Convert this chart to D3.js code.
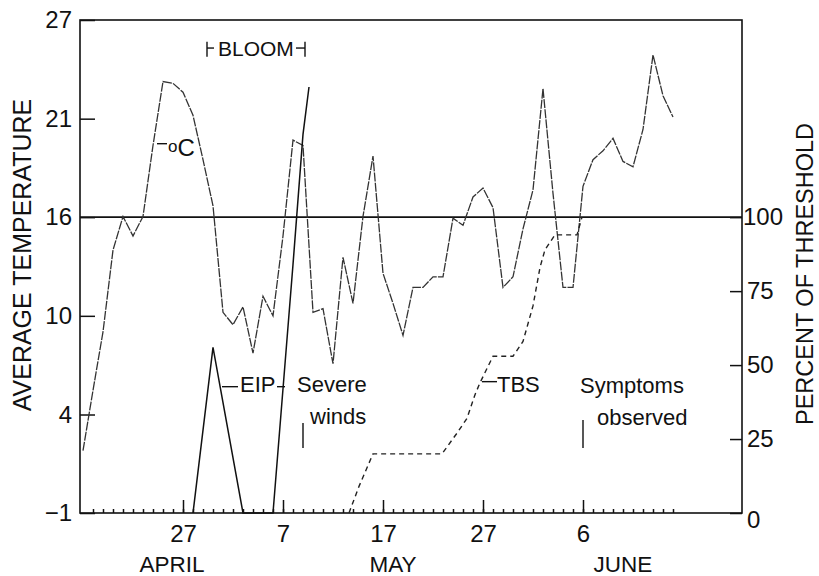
<!DOCTYPE html>
<html>
<head>
<meta charset="utf-8">
<script src="https://cdnjs.cloudflare.com/ajax/libs/d3/7.8.5/d3.min.js"></script>
<style>
  body { margin: 0; background: #fff; }
  svg { display: block; }
</style>
</head>
<body>
<svg id="chart" width="819" height="576"></svg>
<script>
'use strict';
var FONT = '"Liberation Sans", Arial, Helvetica, sans-serif';

/* day of year: 117 = 27 April, 157 = 6 June */
var tempStartDay = 107;
var temperature = [
  2.4, 5.8, 9.1, 13.7, 15.6, 14.5, 15.6, 19.6, 23.2, 23.1,
  22.6, 21.3, 18.8, 16.2, 10.2, 9.5, 10.5, 7.9, 11.1, 10.0,
  14.5, 19.9, 19.6, 10.2, 10.4, 7.3, 13.3, 10.7, 15.6, 19.0,
  12.4, 10.7, 8.9, 11.6, 11.6, 12.2, 12.2, 15.5, 15.1, 16.7,
  17.2, 16.1, 11.6, 12.2, 14.9, 17.1, 22.8, 16.9, 11.6, 11.6,
  17.3, 18.8, 19.3, 20.0, 18.7, 18.4, 20.5, 24.7, 22.4, 21.2
];
var eipDays = [118, 120, 123, 126, 127, 128, 129, 129.6];
var eipValues = [0, 56, 0, 0, 42, 84, 128, 144];
var tbsDays = [133.6, 134.6, 136, 142.9, 144.4, 145.4, 146.2, 146.7, 148, 150, 151, 152, 152.7, 153.2, 154.2, 156.4, 156.9];
var tbsValues = [0, 9, 20, 20, 27, 32, 40, 44, 53, 53, 58, 70, 83, 89, 94, 94, 100];

var thresholdTemp = 15.56;
var tempTicks = [-1.11, 4.44, 10, 15.56, 21.11, 26.67];
var tempTickLabels = ['\u22121', '4', '10', '16', '21', '27'];
var pctTicks = [0, 25, 50, 75, 100];
var majorDays = [117, 127, 137, 147, 157];
var majorLabels = ['27', '7', '17', '27', '6'];
var months = ['APRIL', 'MAY', 'JUNE'];
var monthDays = [115.9, 138, 161];

var plotLeft = 80, plotRight = 742, plotTop = 20, plotBottom = 513;
var svg = d3.select('#chart').attr('font-family', FONT);

var x = d3.scaleLinear().domain([106.7, 172.9]).range([plotLeft, plotRight]);
var yTemp = d3.scaleLinear().domain([-1.11, 26.67]).range([plotBottom, plotTop]);
var yPct = d3.scaleLinear().domain([0, 100]).range([plotBottom, yTemp(thresholdTemp)]);

function styleAxis(g, size) {
  g.attr('font-family', FONT).attr('font-size', size);
  g.select('.domain').remove();
  g.selectAll('line').attr('stroke', '#111').attr('stroke-width', 1.5);
  g.selectAll('text').attr('fill', '#111');
}

// frame and threshold
svg.append('rect')
  .attr('x', plotLeft).attr('y', plotTop)
  .attr('width', plotRight - plotLeft).attr('height', plotBottom - plotTop)
  .attr('fill', 'none').attr('stroke', '#111').attr('stroke-width', 1.6);
svg.append('line')
  .attr('x1', plotLeft).attr('x2', plotRight)
  .attr('y1', yTemp(thresholdTemp)).attr('y2', yTemp(thresholdTemp))
  .attr('stroke', '#111').attr('stroke-width', 1.6);

// axes
svg.append('g').attr('transform', 'translate(' + plotLeft + ',0)')
  .call(d3.axisLeft(yTemp).tickValues(tempTicks)
    .tickFormat(function(d, i) { return tempTickLabels[i]; })
    .tickSizeInner(-15).tickSizeOuter(0).tickPadding(8))
  .call(styleAxis, 24);

svg.append('g').attr('transform', 'translate(' + plotRight + ',0)')
  .call(d3.axisRight(yPct).tickValues(pctTicks)
    .tickSizeInner(-12).tickSizeOuter(0).tickPadding(4))
  .call(styleAxis, 24)
  .selectAll('text')
  .attr('x', function(d) { return d === 100 ? 1 : 5; })
  .attr('dy', function(d) { return d === 0 ? '0.6em' : '0.32em'; });

svg.append('g').attr('transform', 'translate(0,' + plotBottom + ')')
  .call(d3.axisBottom(x).tickValues(d3.range(108, 167))
    .tickFormat('').tickSizeInner(-4).tickSizeOuter(0))
  .call(styleAxis, 24);

svg.append('g').attr('transform', 'translate(0,' + plotBottom + ')')
  .call(d3.axisBottom(x).tickValues(majorDays)
    .tickFormat(function(d, i) { return majorLabels[i]; })
    .tickSizeInner(-13).tickSizeOuter(0).tickPadding(12))
  .call(styleAxis, 24);

svg.selectAll('.month')
  .data(months)
  .enter().append('text')
  .attr('class', 'month')
  .attr('x', function(d, i) { return x(monthDays[i]); })
  .attr('y', 572)
  .attr('text-anchor', 'middle')
  .attr('font-size', 22.5)
  .attr('fill', '#111')
  .text(function(d) { return d; });

svg.append('text')
  .attr('transform', 'translate(31,255) rotate(-90)')
  .attr('text-anchor', 'middle').attr('font-size', 25).attr('fill', '#111')
  .text('AVERAGE TEMPERATURE');
svg.append('text')
  .attr('transform', 'translate(813,274) rotate(-90)')
  .attr('text-anchor', 'middle').attr('font-size', 23.5).attr('fill', '#111')
  .text('PERCENT OF THRESHOLD');

// series
var tempLine = d3.line()
  .x(function(d, i) { return x(tempStartDay + i); })
  .y(function(d) { return yTemp(d); });
svg.append('path').datum(temperature)
  .attr('d', tempLine)
  .attr('fill', 'none').attr('stroke', '#333')
  .attr('stroke-width', 1.3).attr('stroke-dasharray', '9,1.2');

var pctLine = d3.line()
  .x(function(d) { return x(d[0]); })
  .y(function(d) { return yPct(d[1]); });
svg.append('path').datum(d3.zip(eipDays, eipValues))
  .attr('d', pctLine)
  .attr('fill', 'none').attr('stroke', '#111').attr('stroke-width', 1.5);
svg.append('path').datum(d3.zip(tbsDays, tbsValues))
  .attr('d', pctLine)
  .attr('fill', 'none').attr('stroke', '#222')
  .attr('stroke-width', 1.4).attr('stroke-dasharray', '5,4');

// annotations
function seg(x1, y1, x2, y2) {
  svg.append('line')
    .attr('x1', x1).attr('y1', y1).attr('x2', x2).attr('y2', y2)
    .attr('stroke', '#111').attr('stroke-width', 1.4);
}
function label(tx, ty, str, size) {
  return svg.append('text')
    .attr('x', tx).attr('y', ty)
    .attr('font-size', size || 22).attr('fill', '#111')
    .text(str);
}

// bloom bracket
var bloomTop = yTemp(25.44), bloomBot = yTemp(24.6), bloomMid = yTemp(25.09);
seg(x(119.4), bloomTop, x(119.4), bloomBot);
seg(x(119.4), bloomMid, x(120.1), bloomMid);
label(x(120.5), yTemp(24.64), 'BLOOM', 21);
seg(x(128.3), bloomMid, x(129.2), bloomMid);
seg(x(129.2), bloomTop, x(129.2), bloomBot);

// oC label
seg(x(114.4), yTemp(19.7), x(115.4), yTemp(19.7));
var oc = svg.append('text')
  .attr('x', x(115.5)).attr('y', yTemp(19.0))
  .attr('fill', '#111');
oc.append('tspan').attr('font-size', 17).attr('dy', -4).text('o');
oc.append('tspan').attr('font-size', 24).attr('dy', 4).text('C');

// EIP label
seg(x(120.9), yPct(42.7), x(122.5), yPct(42.7));
label(x(122.7), yPct(40.9), 'EIP');
seg(x(126.4), yPct(42.7), x(127.2), yPct(42.7));

// TBS label
seg(x(146.9), yPct(44.4), x(148.4), yPct(44.4));
label(x(148.4), yPct(40.9), 'TBS');

// severe winds
label(x(128.4), yPct(40.9), 'Severe');
label(x(129.7), yPct(30.2), 'winds');
seg(x(129), yPct(30.4), x(129), yPct(22));

// symptoms observed
label(x(156.7), yPct(40.5), 'Symptoms');
label(x(158.4), yPct(29.7), 'observed');
seg(x(157), yPct(31.4), x(157), yPct(22));
</script>
</body>
</html>
